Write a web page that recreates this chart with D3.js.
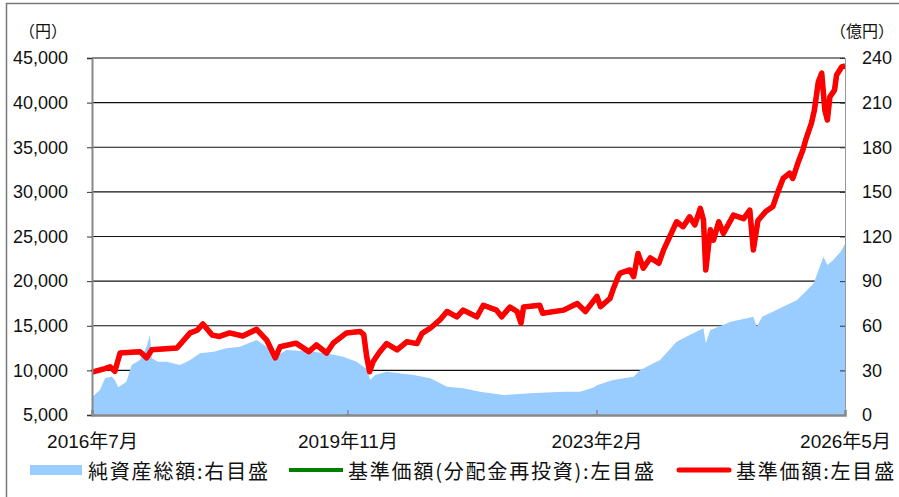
<!DOCTYPE html>
<html>
<head>
<meta charset="utf-8">
<script src="https://cdn.jsdelivr.net/npm/d3@7"></script>
<style>
body { margin: 0; background: #fff; }
svg { display: block; }
</style>
</head>
<body>
<script>
// 基準価額 (left axis, 円)
var priceDates = ["2016-07-01","2016-08-01","2016-09-01","2016-09-25","2016-10-18","2016-11-12","2016-12-15","2017-02-15","2017-03-18","2017-04-12","2017-06-01","2017-08-10","2017-10-12","2017-11-15","2017-12-12","2018-01-25","2018-03-01","2018-04-18","2018-06-20","2018-08-25","2018-10-12","2018-11-22","2018-12-15","2019-03-01","2019-05-01","2019-06-06","2019-07-25","2019-08-25","2019-10-28","2020-01-01","2020-01-18","2020-02-01","2020-02-15","2020-03-03","2020-04-01","2020-05-06","2020-06-25","2020-08-10","2020-09-28","2020-10-22","2020-12-01","2021-01-15","2021-02-18","2021-04-06","2021-05-06","2021-07-10","2021-08-10","2021-10-12","2021-11-06","2021-12-15","2022-01-18","2022-02-06","2022-02-18","2022-05-06","2022-05-20","2022-08-28","2022-11-01","2022-12-10","2023-02-03","2023-02-20","2023-04-06","2023-04-20","2023-05-15","2023-05-25","2023-07-10","2023-07-28","2023-08-18","2023-09-12","2023-10-15","2023-11-25","2023-12-18","2024-02-18","2024-03-20","2024-04-20","2024-05-15","2024-06-10","2024-06-25","2024-07-06","2024-07-28","2024-08-12","2024-09-06","2024-09-28","2024-11-15","2025-01-03","2025-02-01","2025-02-18","2025-03-12","2025-04-18","2025-05-22","2025-06-15","2025-07-10","2025-08-10","2025-08-25","2025-09-18","2025-10-12","2025-10-28","2025-11-22","2025-12-06","2025-12-25","2026-01-10","2026-01-25","2026-02-06","2026-02-18","2026-03-12","2026-03-22","2026-04-15","2026-05-01"];
var priceValues = [9800,10000,10200,10400,9900,11950,12000,12100,11400,12300,12400,12500,14200,14500,15200,13950,13800,14200,13850,14600,13400,11400,12650,13050,12100,12850,11950,13050,14200,14350,14000,11550,9850,11000,12000,13000,12300,13200,13000,14150,14750,15650,16600,16000,16750,16000,17300,16750,16000,17100,16600,15300,17100,17300,16400,16750,17500,16600,18300,17150,18050,19000,20500,20900,21250,20500,23100,21450,22600,22000,23500,26650,26100,27200,26300,28150,26850,21250,25750,24600,26650,25350,27400,27000,27950,23500,26800,27800,28350,30000,31500,32100,31500,33200,34700,36000,37700,39150,42350,43300,39150,38050,40650,41400,43100,44000,44100];
// 基準価額(分配金再投資): no distributions, same as 基準価額
var reinvestValues = priceValues.slice();

// 純資産総額 (right axis, 億円)
var assetDates = ["2016-07-01","2016-08-08","2016-09-01","2016-10-03","2016-10-18","2016-11-03","2016-12-12","2017-01-06","2017-02-15","2017-03-18","2017-04-03","2017-04-12","2017-05-12","2017-06-22","2017-08-25","2017-10-12","2017-11-28","2018-02-01","2018-04-03","2018-06-06","2018-08-25","2018-10-12","2018-11-22","2019-01-15","2019-05-22","2019-08-10","2019-10-12","2019-12-15","2020-02-01","2020-02-18","2020-03-12","2020-05-06","2020-09-12","2020-12-01","2021-02-18","2021-05-06","2021-07-25","2021-11-15","2022-03-22","2022-08-28","2022-11-15","2023-01-18","2023-02-03","2023-04-20","2023-07-28","2023-08-28","2023-12-01","2024-02-18","2024-04-20","2024-06-25","2024-07-06","2024-07-28","2024-11-03","2025-02-18","2025-03-06","2025-04-01","2025-06-25","2025-09-15","2025-12-03","2026-01-18","2026-02-06","2026-03-06","2026-04-10","2026-05-01"];
var assetValues = [12,16.8,24.7,25.8,23.5,18.6,22.4,33.6,37,45.9,53.8,38.1,35.8,35.8,33.6,37,41.5,42.6,44.8,45.9,50.4,45.9,39.2,43.7,42.6,41,39.2,35.8,31,23.5,26.9,29.1,26.9,24.7,19,17.9,15.7,13.4,14.6,15.7,15.7,18.5,20,23.5,25.7,30.3,37,49.3,53.8,58.3,48.2,57.1,62.7,66.1,59.4,66.1,71.7,77.3,88.5,106.4,100.8,104.2,109.8,115];

var leftTicks = [5000,10000,15000,20000,25000,30000,35000,40000,45000];
var rightTicks = [0,30,60,90,120,150,180,210,240];
var xTickDates = ["2016-07-01","2019-11-01","2023-02-01","2026-05-01"];
var xTickLabels = ["2016年7月","2019年11月","2023年2月","2026年5月"];
var legendLabels = ["純資産総額:右目盛","基準価額(分配金再投資):左目盛","基準価額:左目盛"];

var width = 899, height = 497;
var plotL = 92, plotR = 845, plotT = 58, plotB = 415;
var parse = d3.timeParse("%Y-%m-%d");
var numFont = "'Liberation Sans', 'Noto Sans CJK JP', sans-serif";
var jpFont = "'Noto Sans CJK JP', sans-serif";

var svg = d3.select("body").append("svg")
    .attr("width", width)
    .attr("height", height);

// outer frame (cropped at right and bottom)
svg.append("rect")
    .attr("x", 6.5).attr("y", 3.5)
    .attr("width", 910).attr("height", 510)
    .style("fill", "none")
    .style("stroke", "#777")
    .style("stroke-width", 1.5);

var x = d3.scaleTime()
    .domain([parse("2016-07-01"), parse("2026-05-01")])
    .range([plotL, plotR]);
var yL = d3.scaleLinear().domain([5000, 45000]).range([plotB, plotT]);
var yR = d3.scaleLinear().domain([0, 240]).range([plotB, plotT]);

// gridlines
svg.append("g").selectAll("line").data(leftTicks.slice(1))
    .enter().append("line")
    .attr("x1", plotL).attr("x2", plotR)
    .attr("y1", d => yL(d)).attr("y2", d => yL(d))
    .style("stroke", "#111")
    .style("stroke-width", 1.2);

// net assets area
var assets = assetDates.map((d, i) => ({date: parse(d), v: assetValues[i]}));
svg.append("path")
    .datum(assets)
    .attr("d", d3.area().x(d => x(d.date)).y0(plotB).y1(d => yR(d.v)))
    .style("fill", "#99ccff");

// lines
var price = priceDates.map((d, i) => ({date: parse(d), v: priceValues[i]}));
var reinvest = priceDates.map((d, i) => ({date: parse(d), v: reinvestValues[i]}));
var line = d3.line().x(d => x(d.date)).y(d => yL(d.v));

svg.append("path").datum(reinvest)
    .attr("d", line)
    .style("fill", "none")
    .style("stroke", "#008000")
    .style("stroke-width", 4.5)
    .style("stroke-linejoin", "round");

svg.append("path").datum(price)
    .attr("d", line)
    .style("fill", "none")
    .style("stroke", "#ff0000")
    .style("stroke-width", 5.5)
    .style("stroke-linejoin", "round");

// axes
var gL = svg.append("g").attr("transform", "translate(" + plotL + ",0)")
    .call(d3.axisLeft(yL).tickValues(leftTicks).tickSize(5).tickPadding(19).tickFormat(d3.format(",")));
var gR = svg.append("g").attr("transform", "translate(" + plotR + ",0)")
    .call(d3.axisRight(yR).tickValues(rightTicks).tickSize(-5).tickPadding(17));
var gB = svg.append("g").attr("transform", "translate(0," + plotB + ")")
    .call(d3.axisBottom(x).tickValues(xTickDates.map(parse)).tickSize(-5).tickPadding(20)
        .tickFormat((d, i) => xTickLabels[i]));

[gL, gR, gB].forEach(g => {
    g.select(".domain").style("stroke", "#888").style("stroke-width", 2);
    g.selectAll(".tick line").style("stroke", "#333");
    g.selectAll("text")
        .style("font-family", numFont)
        .style("font-size", "18px")
        .style("fill", "#111");
});
gB.select(".domain").style("stroke-width", 2.5);
gB.selectAll(".tick line").style("stroke", "#888").style("stroke-width", 1.5);
gB.selectAll("text").style("font-size", "19px");
gR.select(".domain").style("stroke", "#999").style("stroke-width", 1);

// units
svg.append("text").text("（円）")
    .attr("x", 43).attr("y", 30)
    .attr("text-anchor", "middle").attr("dominant-baseline", "central")
    .style("font-family", jpFont).style("font-size", "16px").style("fill", "#111");
svg.append("text").text("（億円）")
    .attr("x", 862).attr("y", 30)
    .attr("text-anchor", "middle").attr("dominant-baseline", "central")
    .style("font-family", jpFont).style("font-size", "16px").style("fill", "#111");

// legend
var ly = 470;
var legend = svg.append("g");
legend.append("rect")
    .attr("x", 30).attr("y", ly - 5).attr("width", 52).attr("height", 10)
    .style("fill", "#99ccff");
legend.append("line")
    .attr("x1", 289).attr("x2", 343).attr("y1", ly).attr("y2", ly)
    .style("stroke", "#008000").style("stroke-width", 4);
legend.append("line")
    .attr("x1", 679).attr("x2", 729).attr("y1", ly).attr("y2", ly)
    .style("stroke", "#ff0000").style("stroke-width", 5).style("stroke-linecap", "round");
legend.selectAll("text").data(legendLabels)
    .enter().append("text")
    .text(d => d)
    .attr("x", (d, i) => [88, 348, 736][i])
    .attr("y", ly)
    .attr("dominant-baseline", "central")
    .style("font-family", jpFont)
    .style("font-size", "20px")
    .style("letter-spacing", "1.8px")
    .style("fill", "#111");
</script>
</body>
</html>
